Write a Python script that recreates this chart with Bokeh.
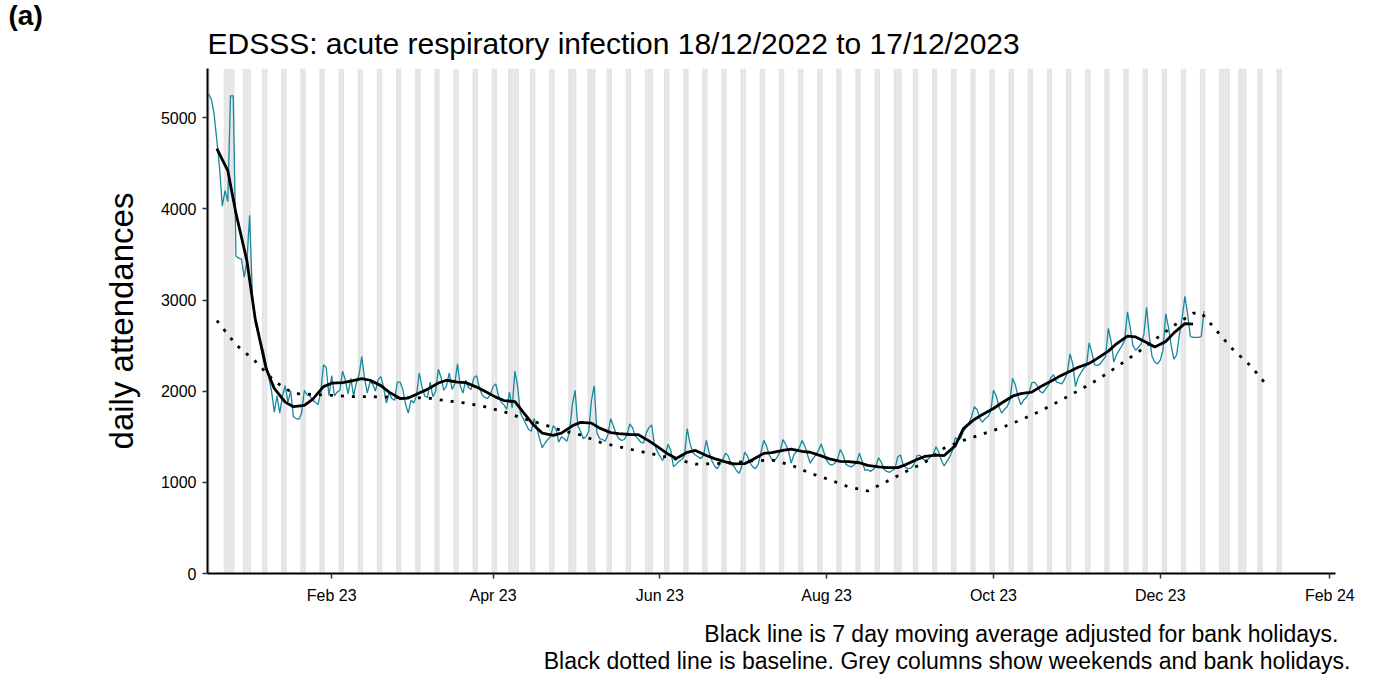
import pandas as pd
from bokeh.plotting import figure
from bokeh.models import FixedTicker, DatetimeTickFormatter, Range1d, Title
from bokeh.embed import file_html
from bokeh.resources import INLINE

# ---------------- data ----------------
start_date = "2022-12-18"   # first day of the daily series (a Sunday)

# daily attendances, one row per week (Sun..Sat), last value is Sun 17/12/2023
daily_counts = [
    5260, 5200, 5040, 4750, 4450, 4030, 4200,
    4080, 5240, 5240, 3480, 3460, 3450, 3250,
    3430, 3930, 3040, 2750, 2650, 2540, 2450,
    2300, 2150, 2000, 1770, 1950, 1760, 1950,
    2060, 1880, 2000, 1720, 1700, 1690, 1760,
    2010, 1960, 1950, 1900, 1880, 1850, 1990,
    2290, 2260, 1950, 2170, 1950, 1990, 2010,
    2220, 2120, 1970, 2140, 1950, 2090, 2180,
    2380, 2150, 1980, 2100, 2080, 2000, 2130,
    2160, 2040, 1870, 1980, 1920, 1900, 2100,
    2100, 2020, 1860, 1760, 1900, 1870, 1950,
    2200, 2050, 1950, 1930, 2100, 1940, 2000,
    2240, 2150, 2010, 2060, 2200, 2020, 2080,
    2300, 2060, 1980, 2120, 2040, 2020, 2150,
    2170, 2040, 1960, 1930, 1920, 1960, 2050,
    2080, 1950, 1880, 1850, 1800, 1990, 1820,
    2220, 2050, 1760, 1700, 1640, 1580, 1560,
    1700, 1600, 1480, 1380, 1430, 1470, 1500,
    1620, 1590, 1440, 1500, 1480, 1450, 1560,
    1850, 2010, 1620, 1560, 1480, 1500, 1560,
    1900, 2060, 1540, 1480, 1470, 1450, 1520,
    1700, 1620, 1530, 1480, 1460, 1470, 1520,
    1640, 1600, 1510, 1480, 1440, 1430, 1540,
    1600, 1630, 1420, 1340, 1290, 1240, 1300,
    1420, 1350, 1170, 1200, 1230, 1250, 1290,
    1590, 1430, 1330, 1300, 1280, 1260, 1300,
    1460, 1330, 1240, 1180, 1150, 1200, 1250,
    1320, 1290, 1200, 1180, 1130, 1100, 1180,
    1330, 1290, 1210, 1170, 1150, 1200, 1330,
    1460, 1400, 1300, 1250, 1240, 1280, 1340,
    1470, 1420, 1350, 1210, 1300, 1340, 1380,
    1460, 1400, 1300, 1210, 1260, 1300, 1350,
    1420, 1330, 1240, 1200, 1190, 1210, 1260,
    1360, 1300, 1200, 1180, 1170, 1190, 1220,
    1320, 1230, 1130, 1140, 1120, 1140, 1180,
    1270, 1220, 1140, 1120, 1110, 1130, 1150,
    1280, 1300, 1190, 1160, 1150, 1160, 1200,
    1290, 1300, 1260, 1240, 1250, 1280, 1310,
    1390, 1330, 1240, 1180, 1230, 1280, 1350,
    1490, 1470, 1480, 1560, 1600, 1650, 1720,
    1830, 1800, 1700, 1660, 1700, 1720, 1780,
    2010, 1950, 1830, 1760, 1800, 1830, 1900,
    2140, 2070, 1940, 1850, 1900, 1930, 1980,
    2090, 2100, 2060, 2000, 1980, 2020, 2060,
    2150, 2180, 2100, 2090, 2080, 2130, 2200,
    2410, 2300, 2050, 2150, 2200, 2250, 2280,
    2530, 2420, 2290, 2280, 2300, 2340, 2380,
    2690, 2550, 2320, 2400, 2450, 2500, 2560,
    2870, 2700, 2500, 2450, 2480, 2520, 2620,
    2920, 2600, 2380, 2320, 2300, 2340, 2450,
    2850, 2700, 2500, 2350, 2400, 2620, 2800,
    3040, 2850, 2600, 2590, 2590, 2590, 2600,
    2880,
]

# 7 day moving average (adjusted for bank holidays): day offset from start_date, value
ma_offsets = [3, 7, 10, 14, 17, 21, 24, 28, 31, 35, 38, 42, 45, 49, 52, 56, 59, 63, 66,
              70, 73, 77, 80, 84, 87, 91, 94, 98, 101, 105, 108, 112, 115, 119, 122, 126,
              129, 133, 136, 140, 143, 147, 150, 154, 157, 161, 164, 168, 171, 175, 178,
              182, 185, 189, 192, 196, 199, 203, 206, 210, 213, 217, 220, 224, 227, 231,
              234, 238, 241, 245, 248, 252, 255, 259, 262, 266, 269, 273, 276, 280, 283,
              287, 290, 294, 297, 301, 304, 308, 311, 315, 318, 322, 325, 329, 332, 336,
              339, 343, 346, 350, 353, 357, 360]
ma_values = [4660, 4420, 3950, 3430, 2800, 2250, 2030, 1880, 1830, 1845, 1910, 2050, 2088,
             2094, 2110, 2138, 2120, 2061, 1990, 1920, 1925, 1980, 2020, 2090, 2120, 2100,
             2094, 2045, 2000, 1935, 1897, 1885, 1770, 1623, 1540, 1515, 1540, 1620, 1658,
             1650, 1595, 1545, 1535, 1525, 1524, 1455, 1395, 1310, 1261, 1330, 1350, 1295,
             1260, 1225, 1203, 1205, 1250, 1318, 1325, 1350, 1365, 1340, 1330, 1290, 1258,
             1230, 1228, 1215, 1186, 1170, 1162, 1162, 1195, 1250, 1285, 1298, 1294, 1400,
             1590, 1690, 1745, 1810, 1870, 1945, 1974, 1990, 2045, 2110, 2160, 2218, 2262,
             2305, 2360, 2440, 2520, 2605, 2595, 2535, 2485, 2545, 2640, 2741, 2735]

# baseline: day offset from start_date, value
baseline_offsets = [3, 10, 17, 24, 31, 38, 45, 52, 59, 66, 73, 80, 87, 94, 101, 108, 115,
                    122, 129, 136, 143, 150, 157, 164, 171, 178, 185, 192, 199, 206, 213,
                    220, 227, 234, 241, 248, 255, 262, 269, 276, 283, 290, 297, 304, 311,
                    318, 325, 332, 339, 346, 353, 360, 363, 367, 374, 381, 386]
baseline_values = [2774, 2510, 2330, 2110, 1975, 1965, 1955, 1940, 1940, 1935, 1930, 1925,
                   1895, 1870, 1830, 1775, 1700, 1640, 1570, 1520, 1440, 1390, 1345, 1300,
                   1255, 1200, 1205, 1215, 1235, 1245, 1190, 1100, 1030, 950, 905, 1010,
                   1118, 1220, 1375, 1460, 1530, 1600, 1685, 1780, 1890, 2005, 2125, 2265,
                   2410, 2565, 2720, 2855, 2860, 2720, 2475, 2280, 2100]

bank_holidays = ["2022-12-26", "2022-12-27", "2023-01-02", "2023-04-07", "2023-04-10",
                 "2023-05-01", "2023-05-08", "2023-05-29", "2023-08-28", "2023-12-25",
                 "2023-12-26", "2024-01-01"]
shade_from, shade_to = "2022-12-17", "2024-01-14"

x_tick_dates = ["2023-02-01", "2023-04-01", "2023-06-01", "2023-08-01",
                "2023-10-01", "2023-12-01", "2024-02-01"]
y_ticks = [0, 1000, 2000, 3000, 4000, 5000]

title_text = "EDSSS: acute respiratory infection 18/12/2022 to 17/12/2023"
panel_tag = "(a)"
y_label = "daily attendances"
note_1 = "Black line is 7 day moving average adjusted for bank holidays."
note_2 = "Black dotted line is baseline. Grey columns show weekends and bank holidays."

# ---------------- derived dates ----------------
start = pd.Timestamp(start_date)
daily_dates = pd.date_range(start, periods=len(daily_counts), freq="D")
ma_dates = [start + pd.Timedelta(days=d) for d in ma_offsets]
baseline_dates = [start + pd.Timedelta(days=d) for d in baseline_offsets]
all_days = pd.date_range(shade_from, shade_to, freq="D")
bh = set(pd.to_datetime(bank_holidays))
shade_days = [d for d in all_days if d.dayofweek >= 5 or d in bh]

FONT = "Liberation Sans"
DAY_MS = 86400000

p = figure(width=1375, height=675, x_axis_type="datetime",
           output_backend="svg", toolbar_location=None,
           min_border_left=207, min_border_right=40,
           min_border_top=68, min_border_bottom=102)
p.x_range = Range1d(pd.Timestamp("2022-12-17 14:00"), pd.Timestamp("2024-02-03 02:00"))
p.y_range = Range1d(0, 5540)

p.vbar(x=shade_days, width=DAY_MS, top=5540, bottom=0,
       fill_color="#e5e5e5", line_color=None)
p.line(daily_dates, daily_counts, line_color="#17889e", line_width=1.3)
p.line(ma_dates, ma_values, line_color="black", line_width=2.8)
p.line(baseline_dates, baseline_values, line_color="black", line_width=2.8,
       line_dash="3 8")

# axes
p.xgrid.visible = False
p.ygrid.visible = False
p.outline_line_color = None
p.background_fill_color = "white"

p.xaxis.ticker = FixedTicker(ticks=[pd.Timestamp(d).value / 1e6 for d in x_tick_dates])
fmt = "%b %y"
p.xaxis.formatter = DatetimeTickFormatter(years=fmt, months=fmt, days=fmt, hours=fmt,
                                          minutes=fmt, seconds=fmt, milliseconds=fmt,
                                          hourmin=fmt, minsec=fmt)
p.yaxis.ticker = FixedTicker(ticks=y_ticks)

for ax in (p.xaxis[0], p.yaxis[0]):
    ax.axis_line_color = "black"
    ax.axis_line_width = 2
    ax.major_tick_line_color = "#333333"
    ax.major_tick_line_width = 1.5
    ax.major_tick_out = 5
    ax.major_tick_in = 0
    ax.minor_tick_line_color = None
    ax.major_label_text_font = FONT
    ax.major_label_text_font_size = "16px"
    ax.major_label_text_color = "black"

p.xaxis.major_label_standoff = 8
p.yaxis.major_label_standoff = 6
p.yaxis.axis_label = y_label
p.yaxis.axis_label_text_font = FONT
p.yaxis.axis_label_text_font_size = "33px"
p.yaxis.axis_label_text_font_style = "normal"
p.yaxis.axis_label_text_color = "black"
p.yaxis.axis_label_standoff = 18

# title (closest to the frame), then the panel tag above it
p.add_layout(Title(text=title_text, align="left", offset=0, standoff=18,
                   text_font=FONT, text_font_size="30px", text_font_style="normal",
                   text_color="black"), "above")
p.add_layout(Title(text=panel_tag, align="left", offset=-199, standoff=-30,
                   vertical_align="bottom",
                   text_font=FONT, text_font_size="28px", text_font_style="bold",
                   text_color="black"), "above")

# footnotes (below the x axis)
p.add_layout(Title(text=note_1, align="right", offset=-3, standoff=24,
                   vertical_align="bottom",
                   text_font=FONT, text_font_size="23px", text_font_style="normal",
                   text_color="black"), "below")
p.add_layout(Title(text=note_2, align="right", offset=-15, standoff=-22,
                   vertical_align="top",
                   text_font=FONT, text_font_size="23px", text_font_style="normal",
                   text_color="black"), "below")

open("out.html", "w").write(file_html(p, INLINE))
